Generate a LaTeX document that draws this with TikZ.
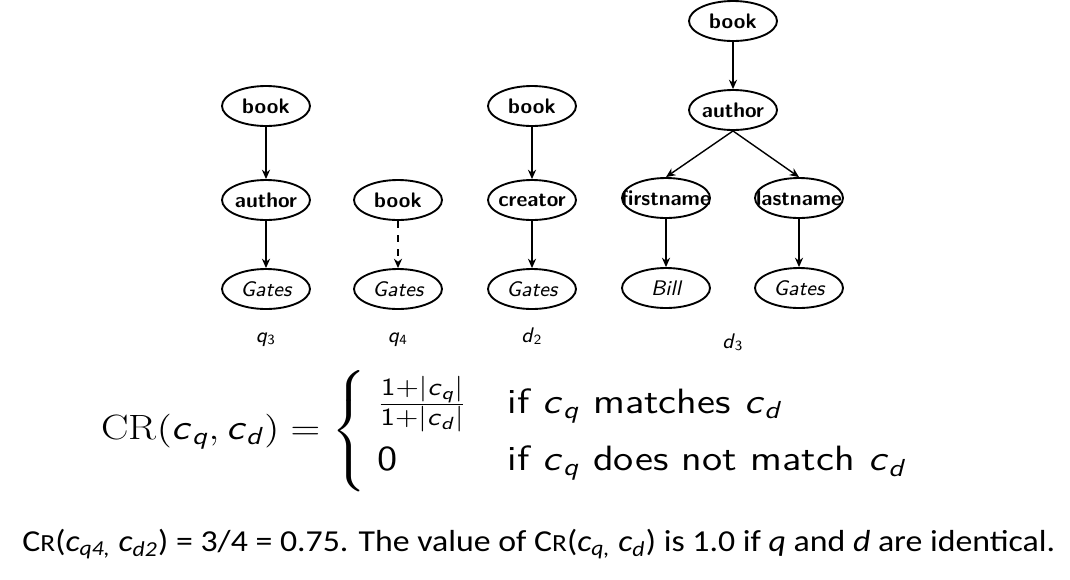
\documentclass[tikz,border=0pt]{standalone}
\usepackage{fontspec}
\usepackage{amsmath}
\usepackage{graphicx}
\newfontfamily\calibfont{Carlito}
\usetikzlibrary{arrows.meta,shapes.geometric}

\newcommand{\ntxt}[1]{\makebox[0pt]{#1}}
\newcommand{\cv}[1]{\textsf{\textit{c}}_{\textsf{\textit{#1}}}}
\newcommand{\crsc}{C{\fontsize{10.5}{10.5}\selectfont R}}

\tikzset{
    elem/.style={draw, ellipse, thick, inner sep=0pt, minimum width=1.32cm,
        minimum height=0.6cm, font=\sffamily\bfseries\small},
    val/.style={elem, font=\sffamily\itshape\small},
    link/.style={semithick, -{Stealth[length=4pt,width=3.5pt]}},
    treelbl/.style={anchor=base, font=\sffamily\small}
}

\begin{document}
\begin{tikzpicture}[x=0.015cm, y=-0.015cm]
    \useasboundingbox (0,0) rectangle (1070,579);

    % Baum q3
    \begin{scope}[shift={(266,0)}]
        \node[elem] (q3book) at (0,106) {\ntxt{book}};
        \node[elem] (q3author) at (0,200) {\ntxt{author}};
        \node[val] (q3gates) at (0,289) {\ntxt{Gates}};
        \draw[link] (q3book) -- (q3author);
        \draw[link] (q3author) -- (q3gates);
        \node[treelbl] (q3lbl) at (0,342) {\textit{q}\textsubscript{3}};
    \end{scope}

    % Baum q4
    \begin{scope}[shift={(398,0)}]
        \node[elem] (q4book) at (0,200) {\ntxt{book}};
        \node[val] (q4gates) at (0,289) {\ntxt{Gates}};
        \draw[link, dashed] (q4book) -- (q4gates);
        \node[treelbl] (q4lbl) at (0,342) {\textit{q}\textsubscript{4}};
    \end{scope}

    % Baum d2
    \begin{scope}[shift={(532,0)}]
        \node[elem] (d2book) at (0,106) {\ntxt{book}};
        \node[elem] (d2creator) at (0,200) {\ntxt{creator}};
        \node[val] (d2gates) at (0,289) {\ntxt{Gates}};
        \draw[link] (d2book) -- (d2creator);
        \draw[link] (d2creator) -- (d2gates);
        \node[treelbl] (d2lbl) at (0,342) {\textit{d}\textsubscript{2}};
    \end{scope}

    % Baum d3
    \begin{scope}[shift={(733,0)}]
        \node[elem] (d3book) at (0,21) {\ntxt{book}};
        \node[elem] (d3author) at (0,110) {\ntxt{author}};
        \node[elem] (d3first) at (-67,198) {\ntxt{firstname}};
        \node[elem] (d3last) at (66,198) {\ntxt{lastname}};
        \node[val] (d3bill) at (-67,288) {\ntxt{Bill}};
        \node[val] (d3gates) at (66,288) {\ntxt{Gates}};
        \draw[link] (d3book) -- (d3author);
        \draw[link] (d3author.south) -- (d3first.north);
        \draw[link] (d3author.south) -- (d3last.north);
        \draw[link] (d3first) -- (d3bill);
        \draw[link] (d3last) -- (d3gates);
        \node[treelbl] (d3lbl) at (0,348) {\textit{d}\textsubscript{3}};
    \end{scope}

    % Formel
    \node[anchor=west, inner sep=0pt, font=\fontsize{15}{18}\selectfont] (crdef) at (101,431)
        {\scalebox{1.17}[1]{$\mathrm{CR}(\cv{q},\cv{d}) = \left\{\renewcommand{\arraystretch}{1.3}
        \begin{array}{@{\;}l@{\quad}l}
            \frac{\textsf{1}+|\cv{q}|}{\textsf{1}+|\cv{d}|} & \textsf{if } \cv{q} \textsf{ matches } \cv{d}\\
            \textsf{0} & \textsf{if } \cv{q} \textsf{ does not match } \cv{d}
        \end{array}\right.$}};

    % Text
    \node[anchor=base west, inner sep=0pt, font=\calibfont\fontsize{13}{16}\selectfont] (note) at (22,551)
        {\scalebox{1.11}[1]{\crsc(\textit{c}\textsubscript{\textit{q4,}} \textit{c}\textsubscript{\textit{d2}}) = 3/4 = 0.75. The value of \crsc(\textit{c}\textsubscript{\textit{q,}} \textit{c}\textsubscript{\textit{d}}) is 1.0 if \textit{q} and \textit{d} are identical.}};
\end{tikzpicture}
\end{document}
